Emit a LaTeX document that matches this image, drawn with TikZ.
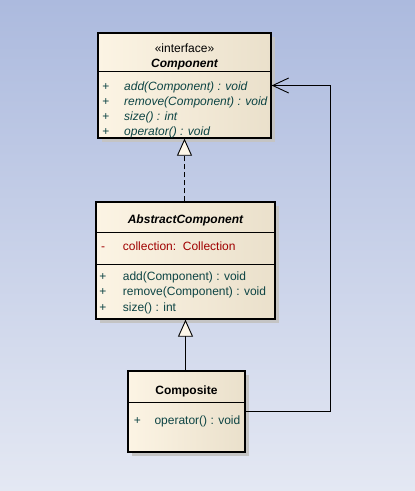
\documentclass[tikz,border=0pt]{standalone}
\usepackage{fontspec}
\setmainfont{Liberation Sans}
\usetikzlibrary{arrows.meta,calc,shadows}
\definecolor{bgtop}{HTML}{ACBADE}
\definecolor{bgbot}{HTML}{E4E8F3}
\definecolor{boxl}{HTML}{FCF4E4}
\definecolor{boxr}{HTML}{EAE0CB}
\definecolor{tri}{HTML}{FDF6E8}
\definecolor{optext}{HTML}{0D4444}
\definecolor{attrtext}{HTML}{A00000}
\begin{document}
\begin{tikzpicture}[x=1pt, y=-1pt, font={\fontsize{12}{14}\selectfont},
  umlbox/.style={draw=black, line width=1.3pt, left color=boxl, right color=boxr,
     inner sep=0pt, drop shadow={shadow xshift=4pt, shadow yshift=-4pt, fill=black!23, opacity=1}},
  divider/.style={draw=black, line width=0.9pt},
  vis/.style={text=optext, anchor=base, inner sep=0pt},
  member/.style={text=optext, anchor=base west, inner sep=0pt},
  title/.style={anchor=base, inner sep=0pt, font={\fontsize{12}{14}\selectfont\bfseries}},
  realize/.style={line width=0.9pt, dash pattern=on 5pt off 3pt,
     -{Triangle[length=17pt, width=15pt, fill=tri]}},
  inherit/.style={line width=0.9pt, -{Triangle[length=17pt, width=15pt, fill=tri]}},
  assoc/.style={line width=0.9pt, -{Straight Barb[length=16pt, width=15pt]}}]
\fill[top color=bgtop, bottom color=bgbot] (0,0) rectangle (415,491);
% classes
\node[umlbox, minimum width=173pt, minimum height=105pt] (comp)  at (184.5,85.5)  {};
\node[umlbox, minimum width=179pt, minimum height=117pt] (abs)   at (185.5,260.5) {};
\node[umlbox, minimum width=117pt, minimum height=81pt]  (compo) at (186.5,411.5) {};
\draw[divider] ($(comp.north west)+(0,39)$) -- ($(comp.north east)+(0,39)$);
\draw[divider] ($(abs.north west)+(0,31)$) -- ($(abs.north east)+(0,31)$);
\draw[divider] ($(abs.north west)+(0,63)$) -- ($(abs.north east)+(0,63)$);
\draw[divider] ($(compo.north west)+(0,32)$) -- ($(compo.north east)+(0,32)$);
% Component
\node[anchor=base, inner sep=0pt] (stereo) at (184.5,52.5) {«interface»};
\node[title, font={\fontsize{12}{14}\selectfont\bfseries\itshape}] (compname) at (184.5,67.5) {Component};
\foreach \y/\txt [count=\i] in {90/add(Component) : void, 105/remove(Component) : void,
                                120/size() : int, 135/operator() : void} {
  \node[vis] (cvis\i) at (106,\y) {+};
  \node[member, font={\fontsize{12}{14}\selectfont\itshape}] (cop\i) at (124,\y) {\txt};
}
% AbstractComponent
\node[title, font={\fontsize{12}{14}\selectfont\bfseries\itshape}] (absname) at (185.5,223.3) {AbstractComponent};
\node[vis, text=attrtext] (avis) at (103,250) {-};
\node[member, text=attrtext] (aattr) at (122.7,250) {collection:~~Collection};
\foreach \y/\txt [count=\i] in {280/add(Component) : void, 295.5/remove(Component) : void,
                                311/size() : int} {
  \node[vis] (bvis\i) at (103,\y) {+};
  \node[member] (bop\i) at (122.7,\y) {\txt};
}
% Composite
\node[title] (componame) at (186.5,394.3) {Composite};
\node[vis] (dvis) at (137.3,424) {+};
\node[member] (dop) at (154.3,424) {operator() : void};
% relations
\draw[realize] (comp.south |- abs.north) -- (comp.south);
\draw[inherit] (abs.south |- compo.north) -- (abs.south);
\draw[assoc] (compo.east) -- ++(85,0) |- (comp.east);
\end{tikzpicture}
\end{document}
